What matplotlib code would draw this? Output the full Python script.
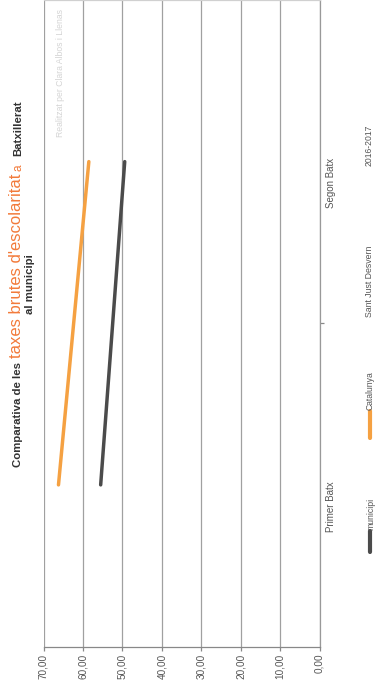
import matplotlib
matplotlib.use('Agg')
import matplotlib.pyplot as plt
from matplotlib.lines import Line2D
from matplotlib import font_manager

plt.rcParams['font.family'] = ['Liberation Sans', 'DejaVu Sans']

# ---- data ----
categories = ["Primer Batx", "Segon Batx"]
municipi = [55.5, 49.4]
catalunya = [66.2, 58.5]
value_ticks = [70, 60, 50, 40, 30, 20, 10, 0]
tick_labels = ["70,00", "60,00", "50,00", "40,00", "30,00", "20,00", "10,00", "0,00"]
series_names = ["municipi", "Catalunya"]
place = "Sant Just Desvern"
year = "2016-2017"
credit = "Realitzat per Clara Albos i Llenas"

W, H = 379, 688
fig = plt.figure(figsize=(W / 100, H / 100), dpi=100)
fig.patch.set_facecolor('white')


def fx(px):
    return px / W


def fy(py):
    return 1 - py / H


DARK = '#4b4b4b'
ORANGE = '#f5a142'
TITLE_OR = '#f27a3a'
TXT = '#555555'

ax = fig.add_axes([fx(43.5), fy(646.5), (319.5 - 43.5) / W, 646.5 / H])
ax.set_xlim(70, 0)
ax.set_ylim(-0.5, 1.5)
ypos = list(range(len(categories)))
ax.plot(municipi, ypos, color=DARK, lw=2.5, solid_capstyle='round', zorder=3)
ax.plot(catalunya, ypos, color=ORANGE, lw=2.5, solid_capstyle='round', zorder=3)

ax.set_xticks(value_ticks)
ax.set_xticklabels(tick_labels, rotation=90, fontsize=7.2, color=TXT)
ax.tick_params(axis='x', length=3, color='#888888', width=0.9, pad=2)
ax.grid(axis='x', color='#a0a0a0', lw=0.9)
ax.set_axisbelow(True)

ax.yaxis.tick_right()
ax.set_yticks(ypos)
ax.set_yticklabels(categories, rotation=90, fontsize=7, color=TXT)
ax.tick_params(axis='y', length=0, pad=5)
ax.set_yticks([0.5], minor=True)
ax.tick_params(axis='y', which='minor', length=3, color='#888888', width=0.9, right=True, left=False)

ax.spines['left'].set_visible(False)
ax.spines['right'].set_color('#999999')
ax.spines['bottom'].set_color('#888888')
ax.spines['top'].set_color('#d0d0d0')
for s in ax.spines.values():
    s.set_linewidth(0.9)

renderer = fig.canvas.get_renderer()

# watermark (condensed look if a narrow face exists)
names = {f.name for f in font_manager.fontManager.ttflist}
if 'Liberation Sans Narrow' in names:
    wm = fig.text(fx(63), fy(137), credit, rotation=90, rotation_mode='anchor',
                  ha='left', va='baseline', fontsize=7.5, color='#d4d4d4',
                  family='Liberation Sans Narrow')
else:
    wm = fig.text(fx(63), fy(137), credit, rotation=90, rotation_mode='anchor',
                  ha='left', va='baseline', fontsize=6.5, color='#d4d4d4')
L = wm.get_window_extent(renderer).height
if L > 128:
    wm.set_fontsize(wm.get_fontsize() * 127 / L)

# title line 1 (mixed styles)
pieces = [("Comparativa de les", dict(fontsize=8.2, fontweight='bold', color='#333333')),
          ("taxes brutes d'escolaritat", dict(fontsize=12, color=TITLE_OR)),
          ("a", dict(fontsize=8.5, color=TITLE_OR)),
          ("Batxillerat", dict(fontsize=8.2, fontweight='bold', color='#333333'))]
gaps = [3.5, 3.5, 8]
ycur = 467.0
for i, (s, kw) in enumerate(pieces):
    t = fig.text(fx(21), fy(ycur), s, rotation=90, rotation_mode='anchor',
                 ha='left', va='baseline', **kw)
    bb = t.get_window_extent(renderer)
    ycur -= bb.height
    if i < len(gaps):
        ycur -= gaps[i]

fig.text(fx(33), fy(284), "al municipi", rotation=90, rotation_mode='anchor',
         ha='center', va='baseline', fontsize=8.2, fontweight='bold', color='#333333')

# legend
leg_colors = [DARK, ORANGE]
leg_line = [(552, 531), (438, 411)]
for name, col, (y0, y1) in zip(series_names, leg_colors, leg_line):
    fig.add_artist(Line2D([fx(370), fx(370)], [fy(y0), fy(y1)], color=col, lw=3,
                          solid_capstyle='round'))
    fig.text(fx(373), fy(y1 - 1), name, rotation=90, rotation_mode='anchor',
             ha='left', va='baseline', fontsize=6.2, color=TXT)

fig.text(fx(372), fy(281), place, rotation=90, rotation_mode='anchor',
         ha='center', va='baseline', fontsize=6.3, color=TXT)
fig.text(fx(372), fy(145), year, rotation=90, rotation_mode='anchor',
         ha='center', va='baseline', fontsize=6.2, color=TXT)

fig.savefig('out.png', dpi=100, facecolor='white')
